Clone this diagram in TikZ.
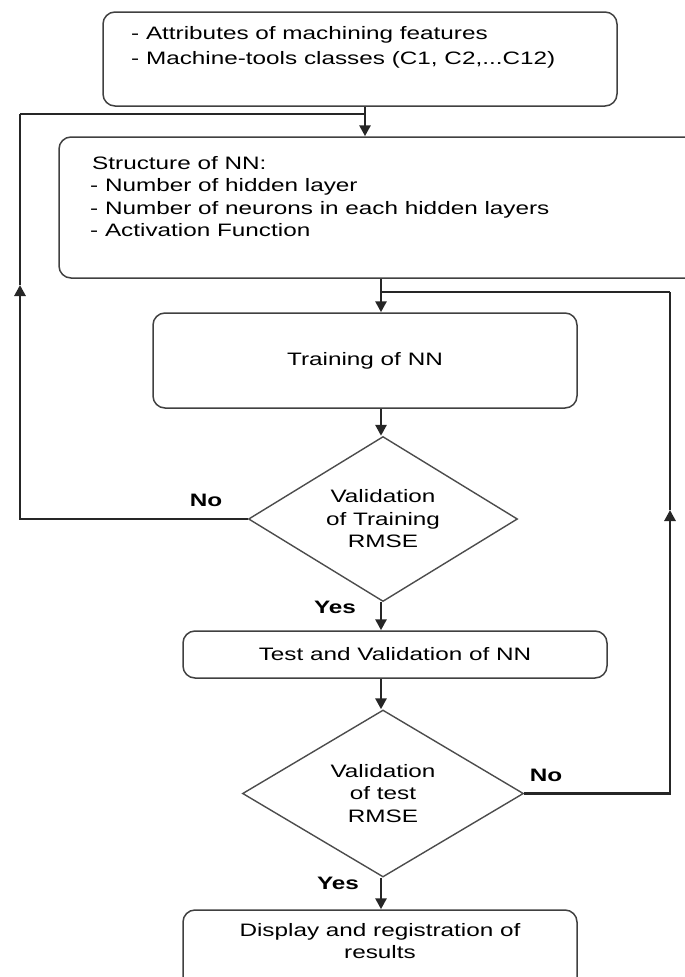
\documentclass[tikz,border=0pt]{standalone}
\usepackage{fontspec}
\setmainfont{Liberation Sans}[FakeStretch=1.35]
\usetikzlibrary{shapes.geometric,arrows.meta}
\begin{document}
\begin{tikzpicture}[x=1pt,y=-1pt,
  font=\fontsize{18}{22.5}\selectfont,
  box/.style={draw=black!75, line width=1.5pt, rounded corners=12pt, inner sep=0pt},
  dec/.style={draw=black!70, line width=1.4pt, diamond, aspect=1.63, inner sep=0pt, minimum width=269pt, minimum height=165pt, align=center},
  conn/.style={line width=2.8pt, draw=black!85},
  arr/.style={conn, -{Triangle[length=11pt,width=11pt]}},
  lbl/.style={font=\fontsize{18}{22}\selectfont\bfseries, inner sep=0pt},
  txt/.style={anchor=base west, inner sep=0pt}
]
\useasboundingbox (0,0) rectangle (685,977);

% boxes
\node[box, minimum width=514pt, minimum height=94pt] (top) at (360,59) {};
\node[txt] (t1) at (131,39) {- Attributes of machining features};
\node[txt] (t2) at (131,64) {- Machine-tools classes (C1, C2,...C12)};

\node[box, minimum width=641pt, minimum height=141pt] (nn) at (379.5,207.5) {};
\node[txt] (n1) at (92,169) {Structure of NN:};
\node[txt] (n2) at (90,191) {- Number of hidden layer};
\node[txt] (n3) at (90,214) {- Number of neurons in each hidden layers};
\node[txt] (n4) at (90,236) {- Activation Function};

\node[box, minimum width=424pt, minimum height=95pt] (train) at (365,360.5) {Training of NN};

\node[dec] (d1) at (383,519) {Validation\\of Training\\RMSE};

\node[box, minimum width=424pt, minimum height=47pt] (test) at (395,654.5) {Test and Validation of NN};

\node[dec, minimum width=281pt, minimum height=167pt, aspect=1.68] (d2) at (383,793.5) {Validation\\of test\\RMSE};

\node[box, minimum width=394pt, minimum height=80pt] (disp) at (380,950) {};
\node[align=center, inner sep=0pt] (dispt) at (380,941) {Display and registration of\\results};

% junction coordinates
\coordinate (ax) at (381,0);
\coordinate (j1) at (365,114);
\coordinate (jl) at (20,114);
\coordinate (la) at (20,285);
\coordinate (j2) at (381,292);
\coordinate (jr) at (670,292);
\coordinate (ra) at (670,510);

% connectors
\draw[arr] (top.south -| j1) -- (j1 |- nn.north);
\draw[conn] (jl) -- (j1);
\draw[arr] (nn.south -| ax) -- (ax |- train.north);
\draw[conn] (j2) -- (jr);
\draw[arr] (train.south -| ax) -- (ax |- d1.north);
\draw[arr] (d1.south -| ax) -- (ax |- test.north);
\draw[arr] (test.south -| ax) -- (ax |- d2.north);
\draw[arr] (d2.south -| ax) -- (ax |- disp.north);

\draw[arr] (d1.west) -| (la);
\draw[conn] (la) -- (jl);
\draw[arr] (d2.east) -| (ra);
\draw[conn] (ra) -- (jr);

% labels
\node[lbl] (no1) at (206,500) {No};
\node[lbl] (yes1) at (335,607) {Yes};
\node[lbl] (no2) at (546,775) {No};
\node[lbl] (yes2) at (338,883) {Yes};
\end{tikzpicture}
\end{document}
